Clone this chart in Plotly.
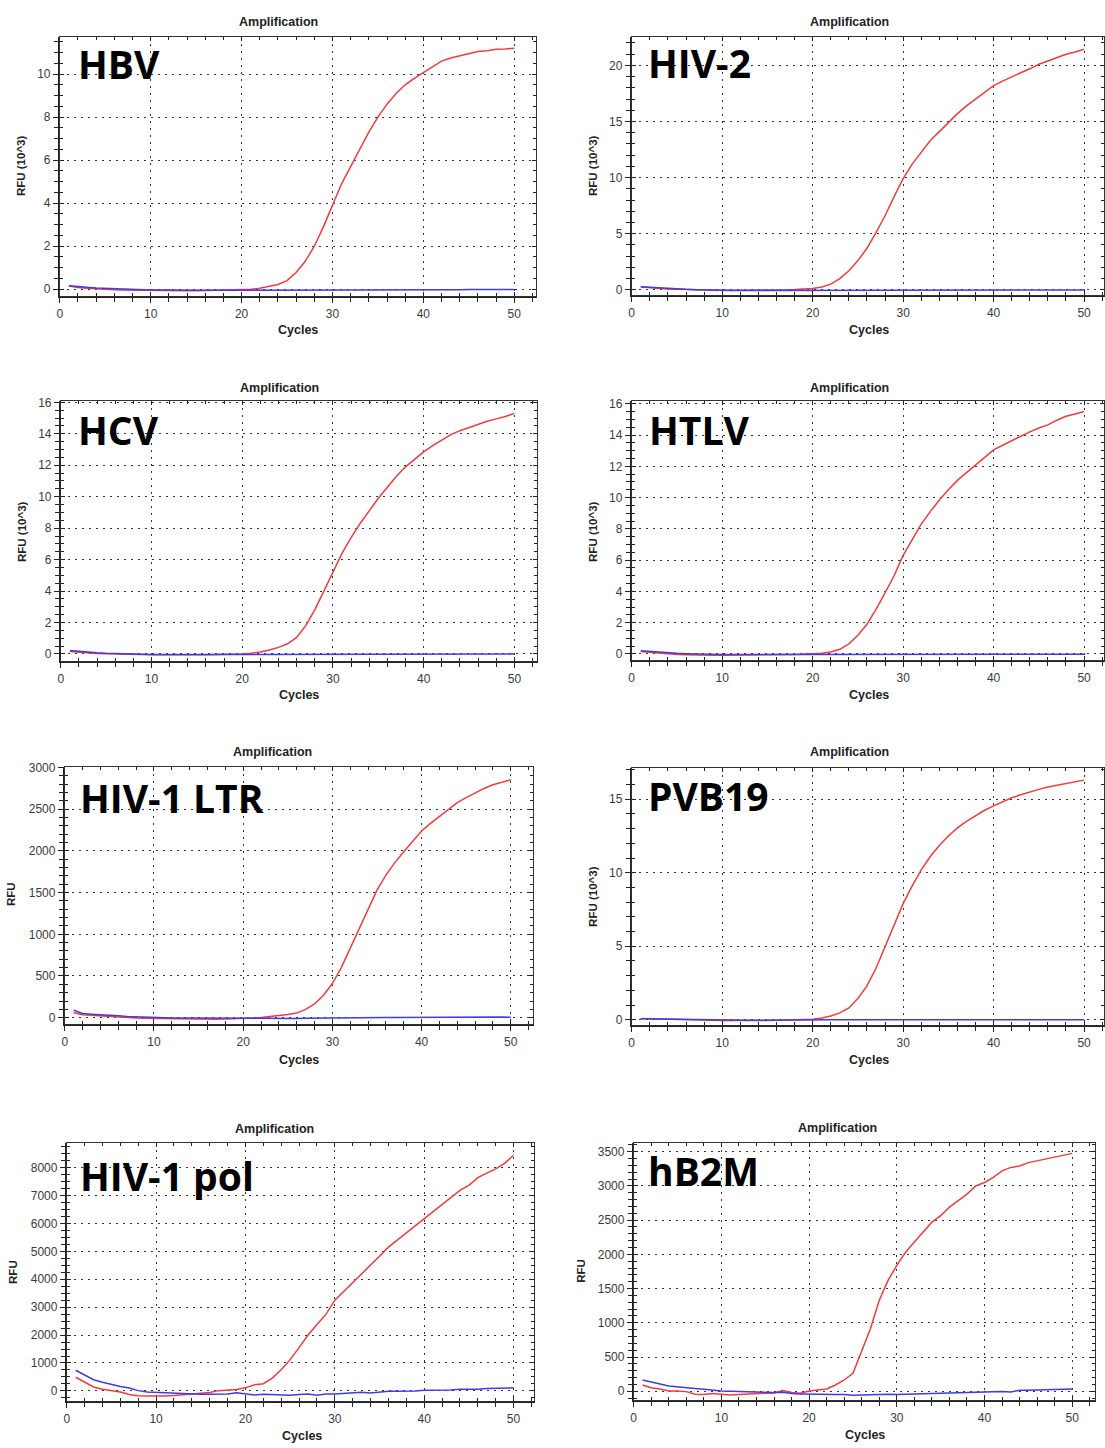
import plotly.graph_objects as go

# ---------------- data ----------------
cycles = list(range(1, 51))
panel_names = ["HBV", "HIV-2", "HCV", "HTLV", "HIV-1 LTR", "PVB19", "HIV-1 pol", "hB2M"]
y_titles = ["RFU (10^3)", "RFU (10^3)", "RFU (10^3)", "RFU (10^3)", "RFU", "RFU (10^3)", "RFU", "RFU"]
x_ticks = [0, 10, 20, 30, 40, 50]

hbv_pos = [0.15, 0.08, 0.05, 0.02, 0.0, -0.02, -0.03, -0.04, -0.05, -0.06,
           -0.06, -0.06, -0.07, -0.07, -0.07, -0.06, -0.06, -0.05, -0.04, -0.03,
           0.0, 0.05, 0.12, 0.22, 0.4, 0.78, 1.3, 2.0, 2.9, 3.9,
           4.9, 5.7, 6.5, 7.3, 8.0, 8.6, 9.1, 9.5, 9.8, 10.06,
           10.35, 10.6, 10.75, 10.85, 10.95, 11.05, 11.08, 11.15, 11.17, 11.2]
hbv_neg = [0.17, 0.12, 0.09, 0.06, 0.04, 0.02, 0.0, -0.01, -0.02, -0.03,
           -0.03, -0.04, -0.04, -0.04, -0.05, -0.05, -0.05, -0.05, -0.05, -0.05,
           -0.05, -0.05, -0.05, -0.05, -0.05, -0.05, -0.05, -0.05, -0.05, -0.04,
           -0.04, -0.04, -0.04, -0.04, -0.04, -0.03, -0.03, -0.03, -0.03, -0.02,
           -0.02, -0.02, -0.02, -0.02, -0.01, -0.01, -0.01, -0.01, -0.01, -0.01]

hiv2_pos = [0.25, 0.18, 0.12, 0.08, 0.05, 0.02, 0.0, -0.02, -0.03, -0.04,
            -0.05, -0.05, -0.05, -0.05, -0.04, -0.03, -0.01, 0.02, 0.06, 0.12,
            0.25, 0.5, 1.0, 1.7, 2.6, 3.7, 5.1, 6.6, 8.3, 9.9,
            11.2, 12.3, 13.3, 14.1, 14.9, 15.7, 16.4, 17.0, 17.6, 18.2,
            18.6, 19.0, 19.35, 19.7, 20.1, 20.4, 20.7, 21.0, 21.2, 21.45]
hiv2_neg = [0.28, 0.22, 0.16, 0.11, 0.07, 0.04, 0.01, -0.02, -0.04, -0.05,
            -0.06, -0.07, -0.07, -0.08, -0.08, -0.08, -0.08, -0.08, -0.08, -0.08,
            -0.08, -0.08, -0.08, -0.08, -0.08, -0.07, -0.07, -0.07, -0.07, -0.07,
            -0.06, -0.06, -0.06, -0.06, -0.06, -0.05, -0.05, -0.05, -0.05, -0.05,
            -0.04, -0.04, -0.04, -0.03, -0.03, -0.03, -0.02, -0.02, -0.02, -0.02]

hcv_pos = [0.15, 0.1, 0.06, 0.03, 0.01, -0.01, -0.02, -0.03, -0.04, -0.05,
           -0.05, -0.06, -0.06, -0.06, -0.05, -0.05, -0.04, -0.03, -0.02, 0.0,
           0.05, 0.12, 0.25, 0.42, 0.65, 1.05, 1.8, 2.8, 4.0, 5.2,
           6.4, 7.4, 8.3, 9.1, 9.9, 10.6, 11.3, 11.9, 12.4, 12.85,
           13.25, 13.6, 13.95, 14.2, 14.4, 14.6, 14.8, 14.95, 15.1, 15.3]
hcv_neg = [0.22, 0.16, 0.11, 0.07, 0.04, 0.02, 0.0, -0.01, -0.02, -0.03,
           -0.03, -0.04, -0.04, -0.04, -0.04, -0.04, -0.04, -0.04, -0.04, -0.04,
           -0.04, -0.04, -0.04, -0.04, -0.04, -0.04, -0.04, -0.04, -0.04, -0.04,
           -0.03, -0.03, -0.03, -0.03, -0.03, -0.02, -0.02, -0.02, -0.02, -0.02,
           -0.01, -0.01, -0.01, -0.01, 0.0, 0.0, 0.0, 0.0, 0.0, 0.0]

htlv_pos = [0.15, 0.1, 0.05, 0.0, -0.03, -0.05, -0.07, -0.08, -0.08, -0.08,
            -0.08, -0.08, -0.07, -0.07, -0.06, -0.05, -0.04, -0.03, -0.02, 0.0,
            0.04, 0.12, 0.3, 0.65, 1.2, 1.9, 2.85, 3.9, 5.0, 6.3,
            7.35, 8.3, 9.1, 9.85, 10.5, 11.1, 11.6, 12.1, 12.6, 13.05,
            13.35, 13.65, 13.95, 14.2, 14.45, 14.65, 14.95, 15.2, 15.35, 15.5]
htlv_neg = [0.2, 0.15, 0.1, 0.07, 0.04, 0.02, 0.0, -0.01, -0.02, -0.03,
            -0.03, -0.04, -0.04, -0.04, -0.04, -0.04, -0.04, -0.04, -0.04, -0.04,
            -0.04, -0.05, -0.05, -0.05, -0.05, -0.05, -0.05, -0.05, -0.05, -0.05,
            -0.05, -0.05, -0.05, -0.05, -0.04, -0.04, -0.04, -0.04, -0.04, -0.04,
            -0.03, -0.03, -0.03, -0.03, -0.03, -0.02, -0.02, -0.02, -0.02, -0.02]

ltr_pos = [60, 35, 28, 20, 10, 5, 0, -5, -8, -10,
           -12, -15, -16, -18, -20, -20, -18, -17, -15, -12,
           -5, 2, 10, 25, 38, 55, 100, 165, 270, 410,
           600, 830, 1060, 1310, 1530, 1710, 1860, 1990, 2120, 2240,
           2330, 2410, 2500, 2580, 2640, 2700, 2750, 2795, 2825, 2855]
ltr_neg = [90, 50, 42, 38, 30, 22, 15, 10, 6, 3,
           0, -3, -5, -6, -7, -8, -8, -8, -8, -8,
           -8, -8, -8, -9, -9, -9, -8, -8, -7, -6,
           -5, -4, -3, -2, 0, 1, 2, 3, 4, 5,
           5, 4, 6, 8, 8, 10, 10, 12, 8, 5]

pvb19_pos = [0.08, 0.06, 0.04, 0.02, 0.0, -0.02, -0.03, -0.04, -0.05, -0.05,
             -0.05, -0.06, -0.06, -0.06, -0.05, -0.04, -0.03, -0.02, 0.0, 0.04,
             0.12, 0.25, 0.47, 0.8, 1.45, 2.3, 3.5, 5.0, 6.5, 7.9,
             9.1, 10.2, 11.1, 11.85, 12.5, 13.05, 13.5, 13.9, 14.25, 14.55,
             14.85, 15.1, 15.3, 15.5, 15.67, 15.83, 15.96, 16.08, 16.2, 16.3]
pvb19_neg = [0.06, 0.05, 0.04, 0.03, 0.02, 0.0, -0.01, -0.02, -0.02, -0.03,
             -0.03, -0.03, -0.03, -0.03, -0.02, -0.02, -0.02, -0.01, -0.01, 0.0,
             0.0, 0.0, 0.0, 0.0, 0.0, 0.0, 0.0, -0.01, -0.01, 0.0,
             0.0, 0.0, 0.0, 0.0, 0.01, 0.01, 0.0, 0.0, 0.0, 0.0,
             0.0, 0.0, 0.0, 0.0, 0.0, 0.0, 0.0, 0.0, 0.0, 0.0]

pol_pos = [490, 300, 140, 60, 20, -40, -130, -170, -180, -190,
           -185, -160, -130, -110, -95, -60, 10, 20, 55, 110,
           220, 260, 460, 760, 1120, 1550, 2000, 2380, 2740, 3250,
           3560, 3860, 4200, 4500, 4820, 5150, 5400, 5650, 5930, 6180,
           6420, 6650, 6900, 7180, 7360, 7640, 7800, 7950, 8150, 8440]
pol_neg = [740, 580, 400, 310, 225, 155, 105, 10, -35, -50,
           -70, -85, -105, -105, -120, -120, -120, -110, -70, -110,
           -145, -120, -130, -130, -155, -130, -110, -155, -110, -110,
           -85, -50, -50, -70, -35, -10, -10, -10, 0, 25,
           25, 10, 35, 60, 50, 60, 85, 95, 110, 110]

b2m_pos = [92, 53, 34, 5, 5, -5, -44, -48, -34, -44,
           -53, -48, -44, -44, -29, -24, 10, -19, -29, 5,
           19, 34, 92, 165, 262, 577, 917, 1330, 1620, 1840,
           2030, 2180, 2325, 2470, 2565, 2690, 2785, 2880, 3000, 3050,
           3125, 3220, 3270, 3290, 3340, 3365, 3400, 3415, 3450, 3475]
b2m_neg = [165, 140, 107, 78, 63, 48, 39, 29, 15, 5,
           0, -5, -10, -15, -19, -19, -15, -34, -39, -44,
           -48, -48, -48, -48, -58, -53, -48, -48, -44, -48,
           -44, -39, -34, -29, -24, -19, -19, -15, -15, -10,
           -5, -5, -10, 15, 15, 19, 24, 29, 29, 34]

pos_series = [hbv_pos, hiv2_pos, hcv_pos, htlv_pos, ltr_pos, pvb19_pos, pol_pos, b2m_pos]
neg_series = [hbv_neg, hiv2_neg, hcv_neg, htlv_neg, ltr_neg, pvb19_neg, pol_neg, b2m_neg]

# ---------------- layout config (pixels) ----------------
W, H = 1105, 1448
frames = [
    dict(L=57, R=535, T=31, B=292, xmax=52.4, yr=[-0.33, 11.73], dt=2, mdt=0.5,
         title=(277, 16), xlab=(296, 326), ylab=(18, 160), big=(73, 58)),
    dict(L=631, R=1105, T=31, B=291, xmax=52.2, yr=[-0.5, 22.55], dt=5, mdt=1,
         title=(850, 16), xlab=(869, 326), ylab=(592, 160), big=(645, 57)),
    dict(L=58, R=536, T=397, B=659, xmax=52.5, yr=[-0.47, 16.1], dt=2, mdt=0.5,
         title=(278, 384), xlab=(297, 693), ylab=(19, 528), big=(73, 426)),
    dict(L=631, R=1105, T=397, B=658, xmax=52.2, yr=[-0.41, 16.19], dt=2, mdt=0.5,
         title=(850, 384), xlab=(869, 693), ylab=(592, 528), big=(646, 426)),
    dict(L=62, R=532, T=765, B=1024, xmax=52.5, yr=[-80, 3010], dt=500, mdt=100,
         title=(270, 750), xlab=(297, 1060), ylab=(8, 893), big=(75, 796)),
    dict(L=631, R=1105, T=766, B=1025, xmax=52.2, yr=[-0.38, 17.14], dt=5, mdt=1,
         title=(850, 750), xlab=(869, 1060), ylab=(592, 895), big=(645, 794)),
    dict(L=64, R=533, T=1143, B=1403, xmax=52.3, yr=[-370, 8890], dt=1000, mdt=250,
         title=(272, 1129), xlab=(300, 1438), ylab=(10, 1273), big=(75, 1176)),
    dict(L=633, R=1096, T=1143, B=1402, xmax=52.6, yr=[-131, 3631], dt=500, mdt=100,
         title=(838, 1128), xlab=(865, 1437), ylab=(580, 1272), big=(645, 1171)),
]

RED = "#f03c3c"
BLUE = "#3c3ce8"
AX = "#222222"
TICKFONT = dict(family="Liberation Sans, Arial, sans-serif", size=12, color="#3a3a3a")
LABFONT = dict(family="Liberation Sans, Arial, sans-serif", size=12.5, color="#222222")
BIGFONT = dict(family="Open Sans, Noto Sans, sans-serif", size=39, color="#000000")
GRIDDASH = "2px,5px"


def pxx(x):
    return x / W


def pyy(y):
    return 1 - y / H


fig = go.Figure()
layout = dict(width=W, height=H, margin=dict(l=0, r=0, t=0, b=0),
              paper_bgcolor="white", plot_bgcolor="white", showlegend=False,
              annotations=[])

n = len(frames)
for i, f in enumerate(frames):
    k = i + 1
    ko = i + 1 + n
    xn = "x" if k == 1 else f"x{k}"
    yn = "y" if k == 1 else f"y{k}"
    xo = f"x{ko}"
    yo = f"y{ko}"
    xdom = [pxx(f["L"]), min(1.0, pxx(f["R"]))]
    ydom = [pyy(f["B"]), pyy(f["T"])]
    xr = [0, f["xmax"]]

    # positive sample on the primary axes
    fig.add_trace(go.Scatter(x=cycles, y=pos_series[i], mode="lines",
                             line=dict(color=RED, width=1.5), xaxis=xn, yaxis=yn,
                             name=panel_names[i] + " sample"))

    layout[f"xaxis{k}"] = dict(
        domain=xdom, range=xr, anchor=yn, tickmode="array", tickvals=x_ticks,
        ticks="outside", ticklen=5, tickwidth=1.3, tickcolor=AX,
        showline=True, linecolor=AX, linewidth=1.8, mirror=False,
        showgrid=True, gridcolor="#333333", gridwidth=1.2, griddash=GRIDDASH,
        zeroline=False, tickfont=TICKFONT,
        minor=dict(dtick=2, tick0=0, ticks="outside", ticklen=4, tickwidth=1.2,
                   tickcolor=AX, showgrid=False),
    )
    layout[f"yaxis{k}"] = dict(
        domain=ydom, range=f["yr"], anchor=xn, dtick=f["dt"], tick0=0,
        ticks="outside", ticklen=5, tickwidth=1.3, tickcolor=AX,
        showline=True, linecolor=AX, linewidth=1.8, mirror=False,
        showgrid=True, gridcolor="#333333", gridwidth=1.2, griddash=GRIDDASH,
        zeroline=False, tickfont=TICKFONT,
        minor=dict(dtick=f["mdt"], tick0=0, ticks="outside", ticklen=4, tickwidth=1.2,
                   tickcolor=AX, showgrid=False),
    )
    # overlay axes (same ranges): frame with inside ticks on all four sides
    layout[f"xaxis{ko}"] = dict(
        overlaying=xn, anchor=yo, range=xr, tickmode="array", tickvals=x_ticks,
        ticks="inside", ticklen=4, tickwidth=1.2, tickcolor=AX,
        showline=True, linecolor="#333333", linewidth=1, mirror="allticks",
        showgrid=False, zeroline=False, showticklabels=False,
        minor=dict(dtick=2, tick0=0, ticks="inside", ticklen=3, tickwidth=1,
                   tickcolor=AX, showgrid=False),
    )
    layout[f"yaxis{ko}"] = dict(
        overlaying=yn, anchor=xo, range=f["yr"], dtick=f["dt"], tick0=0,
        ticks="inside", ticklen=4, tickwidth=1.2, tickcolor=AX,
        showline=True, linecolor="#333333", linewidth=1, mirror="allticks",
        showgrid=False, zeroline=False, showticklabels=False,
        minor=dict(dtick=f["mdt"], tick0=0, ticks="inside", ticklen=3, tickwidth=1,
                   tickcolor=AX, showgrid=False),
    )
    # negative control on the overlay axes (identical ranges)
    fig.add_trace(go.Scatter(x=cycles, y=neg_series[i], mode="lines",
                             line=dict(color=BLUE, width=1.5), xaxis=xo, yaxis=yo,
                             name=panel_names[i] + " control"))

    tx, ty = f["title"]
    layout["annotations"].append(dict(
        text="<b>Amplification</b>", x=pxx(tx), y=pyy(ty), xref="paper", yref="paper",
        xanchor="center", yanchor="middle", showarrow=False, font=LABFONT))
    lx, ly = f["xlab"]
    layout["annotations"].append(dict(
        text="<b>Cycles</b>", x=pxx(lx), y=pyy(ly), xref="paper", yref="paper",
        xanchor="center", yanchor="middle", showarrow=False, font=LABFONT))
    vx, vy = f["ylab"]
    layout["annotations"].append(dict(
        text=f"<b>{y_titles[i]}</b>", x=pxx(vx), y=pyy(vy), xref="paper", yref="paper",
        xanchor="center", yanchor="middle", textangle=-90, showarrow=False,
        font=dict(family="Liberation Sans, Arial, sans-serif", size=11.5, color="#222222")))
    bx, by = f["big"]
    layout["annotations"].append(dict(
        text=f"<b>{panel_names[i]}</b>", x=pxx(bx), y=pyy(by), xref="paper", yref="paper",
        xanchor="left", yanchor="middle", showarrow=False, font=BIGFONT))

fig.update_layout(**layout)
fig.write_html(
    "out.html",
    config={"displayModeBar": False},
    post_script="document.body.style.margin='0';document.body.style.overflow='hidden';",
)
